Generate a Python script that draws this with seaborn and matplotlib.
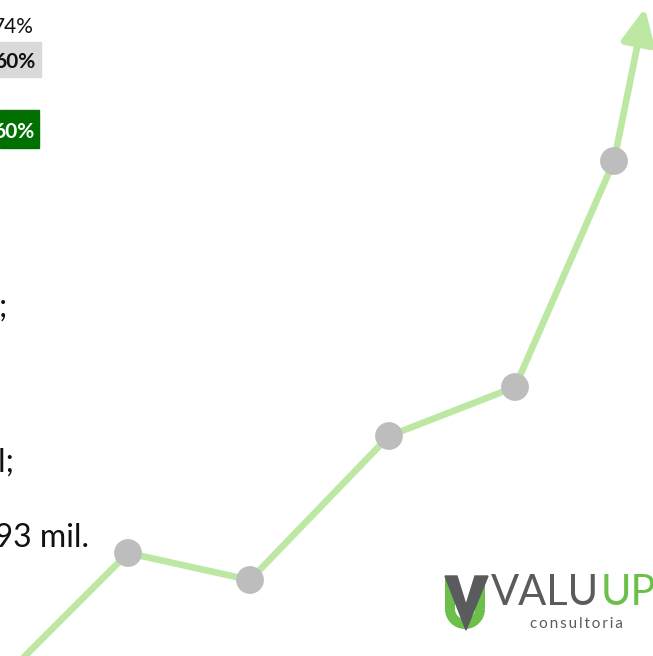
import numpy as np
import pandas as pd
import matplotlib
matplotlib.use("Agg")
import matplotlib.pyplot as plt
import seaborn as sns
from matplotlib.patches import Rectangle, Polygon, Arc

# Trend line (canvas units, y grows upward)
periodo = [22, 128, 250, 389, 515, 614]
valor = [-3, 103, 76, 220, 269, 495]
seta_ponta = (645, 648)

# Text fragments on the left side
pct_topo = "74%"
pct_cinza = "60%"
pct_verde = "60%"
linha_a = ";"
linha_b = "mil;"
linha_c = "1.093 mil."

VERDE_LINHA = "#bce8a4"
CINZA_PONTO = "#bdbdbd"
VERDE_LOGO = "#6cc04a"
CINZA_LOGO = "#5a5b5d"

sns.set_theme(style="white")
plt.rcParams["font.family"] = ["Lato", "DejaVu Sans"]

fig = plt.figure(figsize=(6.53, 6.56), dpi=100)
ax = fig.add_axes([0, 0, 1, 1])
ax.set_xlim(0, 653)
ax.set_ylim(0, 656)

df = pd.DataFrame({"periodo": periodo, "valor": valor})
sns.lineplot(data=df, x="periodo", y="valor", sort=False, color=VERDE_LINHA,
             lw=4.8, ax=ax, zorder=2)
ax.annotate("", xy=seta_ponta, xytext=(periodo[-1], valor[-1]),
            arrowprops=dict(arrowstyle="-|>,head_length=2.1,head_width=1.0",
                            mutation_scale=10, lw=4.8, color=VERDE_LINHA,
                            shrinkA=0, shrinkB=0, joinstyle="round",
                            capstyle="round"), zorder=2)
sns.scatterplot(data=df.iloc[1:], x="periodo", y="valor", s=400,
                color=CINZA_PONTO, edgecolor="none", ax=ax, zorder=3)

# top-left percentage boxes
ax.text(34, 623, pct_topo, ha="right", va="baseline", fontsize=15, color="#111111")
ax.add_patch(Rectangle((0, 579), 41, 35, color="#d9d9d9", zorder=1))
ax.text(35, 588, pct_cinza, ha="right", va="baseline", fontsize=15,
        fontweight="bold", color="#111111", zorder=4)
ax.add_patch(Rectangle((0, 544.5), 39, 1.6, color="#0b6b0b", zorder=1))
ax.add_patch(Rectangle((0, 508), 39, 35, color="#007000", zorder=1))
ax.text(34, 518, pct_verde, ha="right", va="baseline", fontsize=15,
        fontweight="bold", color="white", zorder=4)

# cut-off body text
ax.text(-1, 339, linha_a, ha="left", va="baseline", fontsize=23, color="#111111")
ax.text(15, 184, linha_b, ha="right", va="baseline", fontsize=23, color="#111111")
ax.text(89, 109, linha_c, ha="right", va="baseline", fontsize=23, color="#111111")

# logo
ax.plot([450, 450], [80, 47], color=VERDE_LOGO, lw=7.2, solid_capstyle="butt", zorder=4)
ax.plot([480, 480], [80, 47], color=VERDE_LOGO, lw=7.2, solid_capstyle="butt", zorder=4)
ax.add_patch(Arc((465, 47), 30, 30, theta1=180, theta2=360, color=VERDE_LOGO,
                 lw=7.2, zorder=4))
ax.add_patch(Polygon([(445, 80), (457, 80), (466, 51), (475, 80), (488, 80), (466, 26)],
                     closed=True, color=CINZA_LOGO, zorder=5))
t_valu = ax.text(491, 51, "VALU", ha="left", va="baseline", fontsize=30,
                 color=CINZA_LOGO, zorder=5)
fig.canvas.draw()
bb = t_valu.get_window_extent().transformed(ax.transData.inverted())
ax.text(bb.x1 + 1, 51, "UP", ha="left", va="baseline", fontsize=30,
        color=VERDE_LOGO, zorder=5)
ax.text(576, 28, "\u2009".join("consultoria"), ha="center", va="baseline",
        fontsize=11, color=CINZA_LOGO, zorder=5)

ax.axis("off")

fig.savefig("out.png", dpi=100)
